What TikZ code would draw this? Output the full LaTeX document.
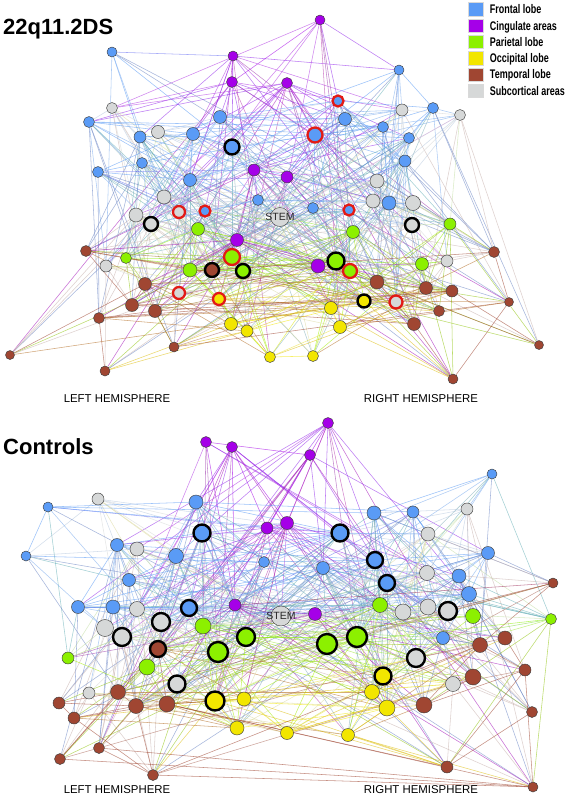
\documentclass[tikz,border=0pt]{standalone}
\usepackage{fontspec}
\setmainfont{Liberation Sans}
\newfontfamily\legendfont[FakeStretch=0.72]{Liberation Sans}
\usetikzlibrary{backgrounds,positioning}
\definecolor{fro}{RGB}{90,155,246}
\definecolor{cin}{RGB}{165,0,232}
\definecolor{par}{RGB}{140,240,0}
\definecolor{occ}{RGB}{242,230,0}
\definecolor{tem}{RGB}{160,70,50}
\definecolor{sub}{RGB}{214,216,216}
\definecolor{hitred}{RGB}{226,26,22}
% regions of one panel: name/x/y/colour/radius/ring
\newcommand\brainnodes[2]{\foreach \n/\x/\y/\c/\r/\s in {#2}{%
 \node[roi,\s,fill=\c,minimum size=2*\r pt] (#1\n) at (\x,\y) {};
 \expandafter\xdef\csname col#1\n\endcsname{\c}\expandafter\xdef\csname rad#1\n\endcsname{\r}}}
% links of one panel, likelier between near and big regions
\newcommand\brainedges[2]{\foreach \i in {1,...,#2}{\foreach \j in {\i,...,#2}{\ifnum\j>\i
 \pgfpointdiff{\pgfpointanchor{#1\i}{center}}{\pgfpointanchor{#1\j}{center}}\pgfgetlastxy{\edx}{\edy}%
 \pgfmathsetmacro\pe{(0.5*exp(-veclen(\edx,\edy)/140)+0.025)*(\csname rad#1\i\endcsname+\csname rad#1\j\endcsname)/12}%
 \pgfmathsetmacro\ru{rnd}%
 \ifdim\ru pt<\pe pt\edef\ca{\csname col#1\i\endcsname}\edef\cb{\csname col#1\j\endcsname}\draw[link,draw=\ca!75!\cb] (#1\i) -- (#1\j);\fi
 \fi}}}
\begin{document}
\begin{tikzpicture}[x=1pt,y=-1pt,
 roi/.style={circle,draw=black!75,line width=0.45pt,inner sep=0pt},
 hub/.style={draw=black,line width=2.4pt},
 diff/.style={draw=hitred,line width=2.3pt},
 link/.style={line width=0.55pt,draw opacity=0.6},
 title/.style={font=\fontsize{22}{26}\selectfont\bfseries,inner sep=0pt,anchor=base west},
 hemi/.style={font=\fontsize{11.4}{13}\selectfont,inner sep=0pt,anchor=base},
 swatch/.style={draw=black!15,line width=0.4pt,minimum width=14.5pt,minimum height=13.5pt,inner sep=0pt},
 legtext/.style={font=\legendfont\fontsize{12.5}{14}\selectfont\bfseries,inner sep=0pt,anchor=base west}]
\pgfmathsetseed{3}
\useasboundingbox (0,0) rectangle (567,796);
% 22q11.2DS panel
\brainnodes{ds}{1/112/52/fro/5/roi,2/233/56/cin/5/roi,3/232/82/cin/5.5/roi,4/287/83/cin/5.5/roi,5/320/20/cin/5/roi,
 6/112/108/sub/5.5/roi,7/89/122/fro/5.5/roi,8/158/132/sub/6.5/roi,9/140/137/fro/6/roi,10/193/134/fro/6.5/roi,
 11/220/117/fro/6.5/roi,12/232/147/fro/7.5/hub,13/142/163/fro/5.5/roi,14/98/172/fro/5.5/roi,15/190/180/fro/6.5/roi,
 16/254/170/cin/6/roi,17/287/177/cin/6/roi,18/164/197/sub/7/roi,19/258/200/fro/5.5/roi,20/399/70/fro/5/roi,
 21/338/101/fro/5.5/diff,22/345/119/fro/6.5/roi,23/315/135/fro/7.5/diff,24/402/110/sub/6/roi,25/433/108/fro/5.5/roi,
 26/460/115/sub/5.5/roi,27/383/127/fro/5.5/roi,28/409/138/fro/5.5/roi,29/405/161/fro/6/roi,30/377/181/sub/7/roi,
 31/373/201/sub/7/roi,32/389/203/fro/7/roi,33/413/203/sub/7.5/roi,34/412/225/sub/7/hub,35/353/232/par/6.5/roi,
 36/313/208/fro/5.5/roi,37/349/210/fro/5.5/diff,38/280/217/sub/9.5/roi,39/179/212/sub/6/diff,40/205/211/fro/5.5/diff,
 41/136/215/sub/7/roi,42/151/224/sub/7/hub,43/198/229/par/6.5/roi,44/237/240/cin/6.5/roi,45/232/257/par/8/diff,
 46/243/271/par/7/hub,47/212/270/tem/7/hub,48/190/270/par/7/roi,49/86/251/tem/5.5/roi,50/126/258/par/5.5/roi,
 51/106/266/sub/6/roi,52/145/284/tem/6.5/roi,53/179/293/sub/6/diff,54/219/299/occ/6/diff,55/132/305/tem/6.5/roi,
 56/155/311/tem/6.5/roi,57/99/318/tem/5.5/roi,58/231/324/occ/6.5/roi,59/247/331/occ/6/roi,60/174/347/tem/5/roi,
 61/270/357/occ/5.5/roi,62/10/355/tem/4.5/roi,63/105/371/tem/5/roi,64/318/266/cin/7/roi,65/336/261/par/8.5/hub,
 66/350/271/par/7/diff,67/422/264/par/6.5/roi,68/450/224/par/6/roi,69/447/261/sub/6/roi,70/494/252/tem/5.5/roi,
 71/377/282/tem/7/roi,72/426/288/tem/6.5/roi,73/452/291/tem/6/roi,74/509/302/tem/4.5/roi,75/364/301/occ/6.5/hub,
 76/396/302/sub/6.5/diff,77/331/308/occ/6.5/roi,78/439/311/tem/5.5/roi,79/414/324/tem/6.5/roi,80/340/327/occ/6.5/roi,
 81/313/356/occ/5.5/roi,82/539/345/tem/4.5/roi,83/453/379/tem/5/roi}
\node[font=\fontsize{10.5}{12}\selectfont,text=black!85,inner sep=0pt] (dsstem) at (ds38) {STEM};
% Controls panel
\brainnodes{hc}{1/206/442/cin/5.5/roi,2/232/447/cin/5.5/roi,3/328/423/cin/5.5/roi,4/310/455/cin/5.5/roi,5/98/499/sub/6/roi,
 6/48/507/fro/5/roi,7/196/502/fro/7/roi,8/202/533/fro/8.5/hub,9/267/528/cin/6/roi,10/287/523/cin/6.5/roi,
 11/117/545/fro/6.5/roi,12/137/549/sub/7/roi,13/176/556/fro/7.5/roi,14/26/556/fro/5/roi,15/264/562/fro/5.5/roi,
 16/129/580/fro/6.5/roi,17/492/474/fro/5/roi,18/467/509/sub/6/roi,19/374/513/fro/7/roi,20/413/512/fro/6/roi,
 21/340/533/fro/8.5/hub,22/428/534/sub/7/roi,23/488/553/fro/6.5/roi,24/375/560/fro/8/hub,25/323/568/fro/6.5/roi,
 26/427/573/sub/7.5/roi,27/459/576/fro/7/roi,28/387/583/fro/8/hub,29/469/594/fro/7.5/roi,30/553/583/tem/5/roi,
 31/78/607/fro/6.5/roi,32/113/607/fro/7/roi,33/137/609/sub/7.5/roi,34/189/608/fro/8/hub,35/235/605/cin/6/roi,
 36/281/616/sub/10/roi,37/315/614/cin/6.5/roi,38/380/605/par/7.5/roi,39/403/612/sub/8/roi,40/428/607/sub/8/roi,
 41/448/611/sub/9/hub,42/473/616/par/7.5/roi,43/551/619/par/5.5/roi,44/105/628/sub/8.5/roi,45/122/637/sub/9/hub,
 46/161/622/sub/9/hub,47/203/626/par/8/roi,48/246/637/par/9/hub,49/158/649/tem/8/hub,50/218/652/par/10/hub,
 51/327/644/par/10/hub,52/357/637/par/10/hub,53/68/658/par/6/roi,54/147/667/par/8/roi,55/177/684/sub/8.5/hub,
 56/89/693/sub/6/roi,57/118/692/tem/7.5/roi,58/59/703/tem/6/roi,59/136/706/tem/7.5/roi,60/167/704/tem/8/roi,
 61/215/701/occ/9.5/hub,62/244/699/occ/7/roi,63/74/718/tem/6/roi,64/237/728/occ/7/roi,65/287/733/occ/6.5/roi,
 66/99/748/tem/5.5/roi,67/60/759/tem/5.5/roi,68/153/775/tem/5.5/roi,69/443/638/fro/6.5/roi,70/480/645/tem/7.5/roi,
 71/505/638/tem/7/roi,72/416/658/sub/9/hub,73/383/676/occ/8.5/hub,74/525/670/tem/6/roi,75/453/684/sub/7.5/roi,
 76/473/677/tem/8/roi,77/372/692/occ/7.5/roi,78/387/708/occ/8/roi,79/424/705/tem/8/roi,80/532/712/tem/5.5/roi,
 81/348/735/occ/6.5/roi,82/447/767/tem/6/roi,83/533/787/tem/5/roi}
\node[font=\fontsize{10.5}{12}\selectfont,text=black!85,inner sep=0pt] (hcstem) at (hc36) {STEM};
\begin{pgfonlayer}{background}
\fill[white] (0,0) rectangle (567,796);
\brainedges{ds}{83}
\brainedges{hc}{83}
\end{pgfonlayer}
% titles and hemisphere labels
\node[title] (dstitle) at (3,34.5) {22q11.2DS};
\node[title] (hctitle) at (3,454.5) {Controls};
\node[hemi] (dsleft) at (117,402) {LEFT HEMISPHERE};
\node[hemi] (dsright) at (421,402) {RIGHT HEMISPHERE};
\node[hemi] (hcleft) at (117,793.5) {LEFT HEMISPHERE};
\node[hemi] (hcright) at (421,793.5) {RIGHT HEMISPHERE};
% legend
\foreach \k/\c/\t in {0/fro/Frontal lobe,1/cin/Cingulate areas,2/par/Parietal lobe,3/occ/Occipital lobe,4/tem/Temporal lobe,5/sub/Subcortical areas}{
 \node[swatch,fill=\c] (sw\k) at (475.5,{9.3+16.3*\k}) {};
 \node[legtext] (lt\k) at ([xshift=6.8pt,yshift=-4.4pt]sw\k.east) {\t};}
\end{tikzpicture}
\end{document}
